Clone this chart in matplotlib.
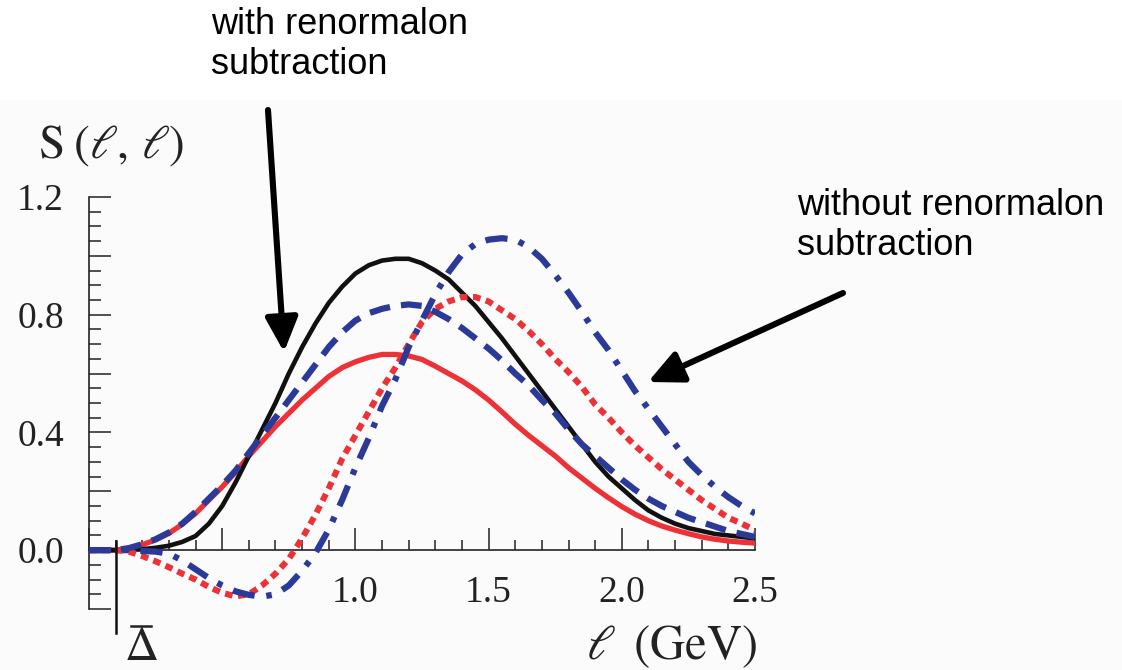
import matplotlib
matplotlib.use("Agg")
import matplotlib.pyplot as plt
from matplotlib.ticker import FixedLocator, FixedFormatter, MultipleLocator
from matplotlib.patches import Rectangle
from matplotlib.lines import Line2D

# ---------------- data ----------------
ell = [0.0, 0.10, 0.15, 0.20, 0.25, 0.30, 0.35, 0.40, 0.45, 0.50, 0.55, 0.60, 0.65,
       0.70, 0.75, 0.80, 0.85, 0.90, 0.95, 1.00, 1.05, 1.10, 1.15, 1.20, 1.25,
       1.30, 1.35, 1.40, 1.45, 1.50, 1.55, 1.60, 1.65, 1.70, 1.75, 1.80, 1.85,
       1.90, 1.95, 2.00, 2.05, 2.10, 2.15, 2.20, 2.25, 2.30, 2.35, 2.40, 2.45, 2.50]

black_solid = [0.0, 0.0, 0.0, 0.003, 0.008, 0.015, 0.028, 0.048, 0.09, 0.15, 0.23, 0.32, 0.41,
               0.50, 0.60, 0.69, 0.77, 0.84, 0.895, 0.94, 0.968, 0.984, 0.99, 0.99, 0.975,
               0.95, 0.92, 0.875, 0.83, 0.775, 0.72, 0.66, 0.60, 0.54, 0.48, 0.42, 0.36,
               0.30, 0.25, 0.21, 0.17, 0.135, 0.11, 0.09, 0.075, 0.065, 0.055, 0.05, 0.045, 0.04]

red_solid = [0.0, 0.0, 0.006, 0.018, 0.035, 0.057, 0.088, 0.125, 0.17, 0.215, 0.265, 0.32, 0.37,
             0.42, 0.465, 0.51, 0.55, 0.59, 0.62, 0.64, 0.655, 0.665, 0.665, 0.66, 0.648,
             0.625, 0.60, 0.575, 0.545, 0.51, 0.47, 0.428, 0.39, 0.355, 0.32, 0.28, 0.245,
             0.21, 0.178, 0.148, 0.122, 0.10, 0.082, 0.068, 0.056, 0.045, 0.037, 0.031, 0.027, 0.024]

blue_dashed = [0.0, 0.0, 0.007, 0.02, 0.037, 0.06, 0.09, 0.13, 0.175, 0.22, 0.27, 0.33, 0.39,
               0.45, 0.51, 0.57, 0.63, 0.69, 0.74, 0.78, 0.805, 0.82, 0.83, 0.835, 0.83,
               0.81, 0.785, 0.755, 0.72, 0.685, 0.645, 0.60, 0.56, 0.51, 0.465, 0.41, 0.36,
               0.32, 0.28, 0.24, 0.205, 0.175, 0.15, 0.13, 0.11, 0.095, 0.08, 0.065, 0.055, 0.045]

red_dotted = [0.0, 0.0, -0.005, -0.02, -0.038, -0.058, -0.08, -0.10, -0.125, -0.145, -0.157, -0.15, -0.12,
              -0.08, -0.03, 0.04, 0.12, 0.21, 0.31, 0.39, 0.47, 0.55, 0.62, 0.70, 0.775,
              0.82, 0.845, 0.86, 0.86, 0.845, 0.815, 0.785, 0.745, 0.70, 0.65, 0.605, 0.555,
              0.495, 0.45, 0.40, 0.355, 0.315, 0.275, 0.24, 0.205, 0.17, 0.14, 0.11, 0.09, 0.068]

blue_dashdot = [0.0, 0.0, 0.0, -0.003, -0.005, -0.012, -0.035, -0.065, -0.095, -0.12, -0.14, -0.152, -0.158,
                -0.15, -0.12, -0.07, -0.01, 0.07, 0.17, 0.28, 0.38, 0.49, 0.58, 0.69, 0.78,
                0.87, 0.945, 1.005, 1.04, 1.055, 1.06, 1.055, 1.03, 0.99, 0.935, 0.875, 0.81,
                0.74, 0.68, 0.61, 0.54, 0.48, 0.42, 0.36, 0.30, 0.255, 0.215, 0.18, 0.15, 0.125]

y_major = [-0.2, 0.0, 0.2, 0.4, 0.6, 0.8, 1.0, 1.2]
y_labels = ['', '0.0', '', '0.4', '', '0.8', '', '1.2']
x_major = [0.0, 0.5, 1.0, 1.5, 2.0, 2.5]
x_labels = ['', '', '1.0', '1.5', '2.0', '2.5']
delta_bar = 0.1

# ---------------- styling ----------------
plt.rcParams['mathtext.fontset'] = 'stix'
plt.rcParams['lines.scale_dashes'] = False
serif = 'Liberation Serif'
sans = 'Liberation Sans'

RED = '#ED3237'
BLUE = '#2B3A98'
INK = '#222222'

fig = plt.figure(figsize=(11.22, 6.70), dpi=100)
fig.patch.set_facecolor('white')
fig.patches.append(Rectangle((0, 0), 1, 570 / 670, transform=fig.transFigure,
                             facecolor='#fbfbfb', edgecolor='none', zorder=-10))

ax = fig.add_axes([89 / 1122, (670 - 609) / 670, 666 / 1122, 412 / 670])
ax.set_facecolor('none')

ax.plot(ell, red_solid, color=RED, lw=3.8, zorder=3)
ax.plot(ell, black_solid, color='#111111', lw=3.3, zorder=4)
ax.plot(ell, red_dotted, color=RED, lw=4.4, dashes=(5.5, 4.0), zorder=5)
ax.plot(ell, blue_dashed, color=BLUE, lw=4.5, dashes=(15.0, 8.0), zorder=6)
ax.plot(ell, blue_dashdot, color=BLUE, lw=4.5, dashes=(16.0, 8.5, 4.0, 8.5), zorder=7)

ax.set_xlim(0, 2.5)
ax.set_ylim(-0.2, 1.2)

for s in ['top', 'right']:
    ax.spines[s].set_visible(False)
ax.spines['bottom'].set_position(('data', 0))
for s in ['left', 'bottom']:
    ax.spines[s].set_linewidth(1.2)
    ax.spines[s].set_color(INK)

ax.yaxis.set_major_locator(FixedLocator(y_major))
ax.yaxis.set_major_formatter(FixedFormatter(y_labels))
ax.yaxis.set_minor_locator(MultipleLocator(0.05))
ax.xaxis.set_major_locator(FixedLocator(x_major))
ax.xaxis.set_major_formatter(FixedFormatter(x_labels))
ax.xaxis.set_minor_locator(MultipleLocator(0.1))

ax.tick_params(axis='y', which='major', direction='in', length=16, width=1.1, pad=18,
               labelsize=27, color=INK)
ax.tick_params(axis='y', which='minor', direction='in', length=8.5, width=1.1, color=INK)
ax.tick_params(axis='x', which='major', direction='in', length=16, width=1.1, pad=18,
               labelsize=27, color=INK)
ax.tick_params(axis='x', which='minor', direction='in', length=7, width=1.1, color=INK)
for lab in ax.get_xticklabels() + ax.get_yticklabels():
    lab.set_fontfamily(serif)
    lab.set_color(INK)

# Delta-bar marker line
ax.plot([delta_bar, delta_bar], [0.03, -0.28], color='#111111', lw=1.8, clip_on=False, zorder=8)

# texts in figure pixels
fig.text(141 / 1122, (670 - 647) / 670, r'$\Delta$', fontsize=34, ha='center',
         va='center', color=INK)
fig.lines.append(Line2D([131 / 1122, 151 / 1122], [(670 - 626) / 670, (670 - 626) / 670],
                        transform=fig.transFigure, color=INK, lw=1.8))
fig.text(38 / 1122, (670 - 146) / 670, r'$\mathrm{S}\;(\ell,\,\ell)$', fontsize=34, ha='left',
         va='center', color=INK)
fig.text(757 / 1122, (670 - 646) / 670, r'$\ell\;\;\mathrm{(GeV)}$', fontsize=35, ha='right',
         va='center', color=INK)

fig.text(211 / 1122, (670 - 7) / 670, 'with renormalon\nsubtraction', fontsize=26,
         family=sans, ha='left', va='top', linespacing=1.2, color='black')
fig.text(797 / 1122, (670 - 188) / 670, 'without renormalon\nsubtraction', fontsize=26,
         family=sans, ha='left', va='top', linespacing=1.2, color='black')

arrow_kw = dict(arrowstyle='-|>,head_length=0.8,head_width=0.38', lw=4.4, color='black',
                mutation_scale=26, shrinkA=0, shrinkB=0)
ax.annotate('', xy=(284, 670 - 352), xytext=(268, 670 - 110), xycoords='figure pixels',
            textcoords='figure pixels', arrowprops=arrow_kw, annotation_clip=False)
ax.annotate('', xy=(648, 670 - 382), xytext=(843, 670 - 293), xycoords='figure pixels',
            textcoords='figure pixels', arrowprops=arrow_kw, annotation_clip=False)

fig.savefig('out.png', dpi=100)
